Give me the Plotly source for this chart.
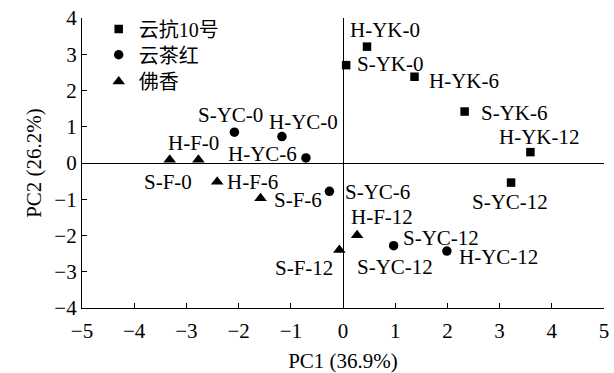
import plotly.graph_objects as go

# ---- data ----
series_names = ["云抗10号", "云茶红", "佛香"]

yk_x = [0.46, 0.06, 1.37, 2.33, 3.59, 3.22]
yk_y = [3.21, 2.70, 2.38, 1.42, 0.30, -0.54]
yk_labels = ["H-YK-0", "S-YK-0", "H-YK-6", "S-YK-6", "H-YK-12", "S-YC-12"]

yc_x = [-2.08, -1.17, -0.71, -0.26, 0.97, 1.99]
yc_y = [0.85, 0.73, 0.14, -0.78, -2.28, -2.43]
yc_labels = ["S-YC-0", "H-YC-0", "H-YC-6", "S-YC-6", "S-YC-12", "H-YC-12"]
yc_extra_label = "S-YC-12"   # second label printed near point index 4

ff_x = [-3.32, -2.77, -2.41, -1.58, 0.27, -0.07]
ff_y = [0.09, 0.09, -0.52, -0.97, -1.99, -2.40]
ff_labels = ["S-F-0", "H-F-0", "H-F-6", "S-F-6", "H-F-12", "S-F-12"]

x_title = "PC1 (36.9%)"
y_title = "PC2 (26.2%)"
x_ticks = [-5, -4, -3, -2, -1, 0, 1, 2, 3, 4, 5]
y_ticks = [-4, -3, -2, -1, 0, 1, 2, 3, 4]

# ---- styling ----
FONT = "Liberation Serif, 'Times New Roman', 'Noto Sans CJK SC', serif"
FS = 21

# label placement: (anchor, dx px right, dy px down)
yk_place = [("center", 18, -17), ("left", 9, -1), ("left", 12, 4),
            ("left", 14, 1), ("center", 9, -15), ("center", -1, 19)]
yc_place = [("center", -4, -17), ("center", 22, -15), ("right", -7, -4),
            ("left", 14, 1), ("left", 7, -8), ("left", 10, 6)]
yc_extra_place = ("center", 1, 21)
ff_place = [("center", -2, 22), ("center", -5, -17), ("left", 8, 0),
            ("left", 11, 2), ("center", 25, -18), ("right", -4, 18)]

fig = go.Figure()
fig.add_trace(go.Scatter(x=yk_x, y=yk_y, mode="markers", name=series_names[0],
                         legend="legend",
                         marker=dict(symbol="square", size=8.5, color="black")))
fig.add_trace(go.Scatter(x=yc_x, y=yc_y, mode="markers", name=series_names[1],
                         legend="legend2",
                         marker=dict(symbol="circle", size=9.5, color="black")))
fig.add_trace(go.Scatter(x=ff_x, y=ff_y, mode="markers", name=series_names[2],
                         legend="legend3",
                         marker=dict(symbol="triangle-up", size=11, color="black")))

annotations = []
def add_labels(xs, ys, labels, places):
    for x, y, t, (anc, dx, dy) in zip(xs, ys, labels, places):
        annotations.append(dict(x=x, y=y, text=t, showarrow=False,
                                xanchor=anc, yanchor="middle",
                                xshift=dx, yshift=-dy,
                                font=dict(family=FONT, size=FS, color="black")))

add_labels(yk_x, yk_y, yk_labels, yk_place)
add_labels(yc_x, yc_y, yc_labels, yc_place)
add_labels([yc_x[4]], [yc_y[4]], [yc_extra_label], [yc_extra_place])
add_labels(ff_x, ff_y, ff_labels, ff_place)

axis_common = dict(showgrid=False, zeroline=True, zerolinecolor="black",
                   zerolinewidth=1.3, showline=True, linecolor="black",
                   linewidth=1.3, ticks="inside", ticklen=5, tickwidth=1.2,
                   tickcolor="black", mirror=False, automargin=False,
                   tickfont=dict(family=FONT, size=FS, color="black"))

def legend_box(yc):
    return dict(x=0.032, y=yc, xanchor="left", yanchor="middle",
                bgcolor="rgba(0,0,0,0)", borderwidth=0, itemwidth=30,
                font=dict(family=FONT, size=20, color="black"))

fig.update_layout(
    width=614, height=373,
    margin=dict(l=82, r=10, t=17, b=65),
    plot_bgcolor="white", paper_bgcolor="white",
    font=dict(family=FONT, size=FS, color="black"),
    xaxis=dict(range=[-5, 5], tickvals=x_ticks, **axis_common,
               ticklabelstandoff=4,
               title=dict(text=x_title, font=dict(family=FONT, size=FS), standoff=10)),
    yaxis=dict(range=[-4, 4], tickvals=y_ticks, **axis_common,
               title=dict(text=y_title, font=dict(family=FONT, size=FS), standoff=6)),
    legend=legend_box(0.9587),
    legend2=legend_box(0.8703),
    legend3=legend_box(0.7785),
    annotations=annotations,
    showlegend=True,
)

fig.write_html("out.html",
               config={"displayModeBar": False},
               post_script="document.body.style.margin='0';document.body.style.overflow='hidden';")
